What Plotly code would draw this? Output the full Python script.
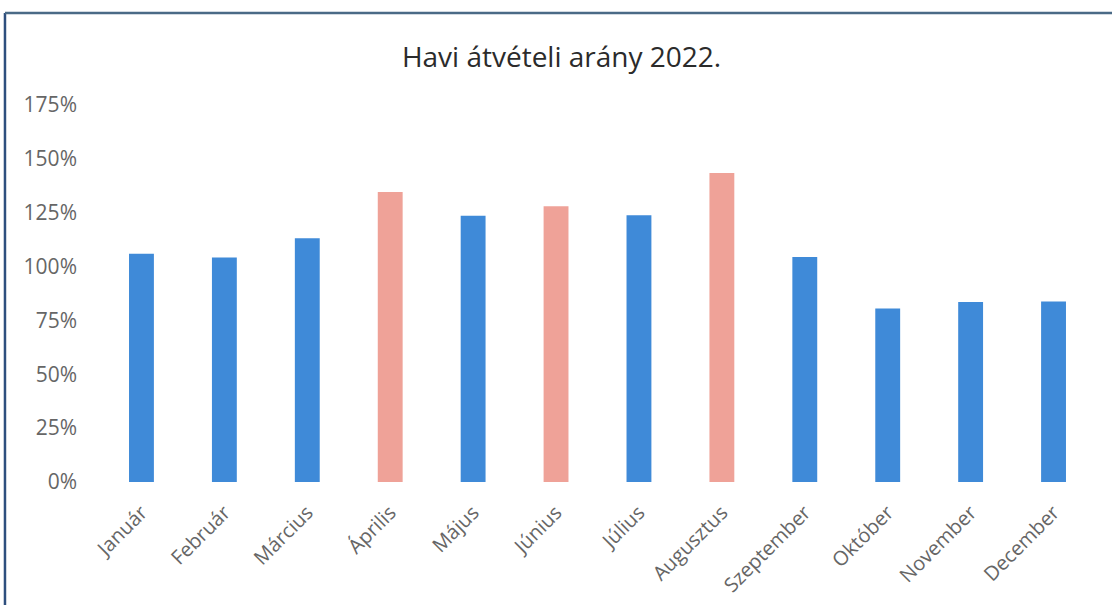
import plotly.graph_objects as go

months = ["Január", "Február", "Március", "Április", "Május", "Június",
          "Július", "Augusztus", "Szeptember", "Október", "November", "December"]
rates = [1.059, 1.042, 1.132, 1.346, 1.236, 1.280, 1.238, 1.434, 1.044, 0.805, 0.835, 0.838]
highlight = [False, False, False, True, False, True, False, True, False, False, False, False]
y_ticks = [0, 0.25, 0.5, 0.75, 1.0, 1.25, 1.5, 1.75]
y_tick_labels = ["0%", "25%", "50%", "75%", "100%", "125%", "150%", "175%"]
title_text = "Havi átvételi arány 2022."

BLUE = "#3F8AD8"
PINK = "#EFA298"
colors = [PINK if h else BLUE for h in highlight]

fig = go.Figure(go.Bar(
    x=months, y=rates, marker=dict(color=colors, line=dict(width=0)),
    width=0.30,
))

font_family = "Open Sans, Carlito, Liberation Sans, sans-serif"

fig.update_layout(
    width=1112, height=612,
    margin=dict(l=100, r=17, t=105, b=130, autoexpand=False),
    paper_bgcolor="white", plot_bgcolor="white",
    showlegend=False,
    title=dict(text=title_text, x=0.505, xanchor="center", y=0.907, yanchor="middle",
               font=dict(family=font_family, size=28, color="#2b2b2b")),
    font=dict(family=font_family, color="#666666"),
)
fig.update_xaxes(
    tickangle=-45, tickfont=dict(size=20, color="#666666"),
    showgrid=False, showline=False, ticks="", ticklabelstandoff=14,
)
fig.update_yaxes(
    range=[0, 1.75], tickvals=y_ticks, ticktext=y_tick_labels,
    tickfont=dict(size=21, color="#666666"),
    showgrid=False, zeroline=False, showline=False, ticks="",
    ticklabelstandoff=22,
)
# frame lines (left and top) like the scanned chart border
fig.add_shape(type="line", xref="paper", yref="paper", x0=-0.0955, x1=-0.0955, y0=-0.326, y1=1.244,
              line=dict(color="#2E4F7E", width=2.5), layer="above")
fig.add_shape(type="line", xref="paper", yref="paper", x0=-0.0955, x1=1.02, y0=1.244, y1=1.244,
              line=dict(color="#4A6A86", width=2.5), layer="above")

fig.write_html("out.html", config={"displayModeBar": False},
               post_script="document.body.style.margin='0';")
